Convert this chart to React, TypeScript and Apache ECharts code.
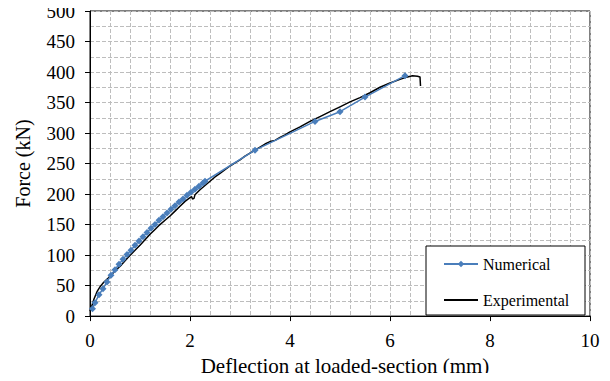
import React, { useEffect, useRef } from "react";
import * as echarts from "echarts";

// Numerical model: deflection (mm) and force (kN)
const numericalDeflection = [
  0.05, 0.1, 0.18, 0.26, 0.34, 0.42, 0.5, 0.58, 0.66, 0.74, 0.82, 0.9, 0.98,
  1.06, 1.14, 1.22, 1.3, 1.38, 1.46, 1.54, 1.62, 1.7, 1.78, 1.86, 1.94, 2.02,
  2.1, 2.18, 2.26, 2.3, 3.3, 4.5, 5.0, 5.5, 6.3,
];
const numericalForce = [
  12, 22, 35, 45, 56, 67, 76, 85, 93, 101, 108, 116, 123, 130, 137, 144, 150,
  157, 163, 169, 175, 181, 187, 192, 198, 203, 208, 213, 218, 221, 272, 319,
  335, 359, 394,
];

// Test record: deflection (mm) and force (kN)
const experimentalDeflection = [
  0, 0.03, 0.08, 0.14, 0.2, 0.26, 0.36, 0.5, 0.63, 0.76, 0.89, 1.0, 1.1, 1.2,
  1.3, 1.4, 1.5, 1.6, 1.7, 1.8, 1.9, 2.0, 2.03, 2.05, 2.08, 2.1, 2.2, 2.3, 2.4,
  2.5, 2.6, 2.7, 2.8, 2.9, 3.0, 3.1, 3.2, 3.3, 3.4, 3.5, 3.6, 3.7, 3.8, 3.9,
  4.0, 4.2, 4.4, 4.6, 4.8, 5.0, 5.2, 5.4, 5.6, 5.8, 6.0, 6.2, 6.35, 6.45, 6.55,
  6.6, 6.61,
];
const experimentalForce = [
  8, 15, 28, 40, 48, 54, 62, 74, 84, 96, 107, 116, 125, 134, 142, 150, 157,
  164, 172, 180, 188, 194, 196, 192, 193, 199, 207, 214, 221, 228, 234, 240,
  246, 251, 256, 262, 267, 272, 277, 282, 286, 288, 293, 297, 302, 310, 319,
  327, 335, 343, 351, 358, 366, 375, 382, 388, 392, 394, 393, 392, 377,
];

const xTicks = { min: 0, max: 10, interval: 2 };
const yTicks = { min: 0, max: 500, interval: 50 };

const FONT = "Liberation Serif";
const BLUE = "#4a7ebb";

const gridDash = {
  show: true,
  lineStyle: { color: "#bdbdbd", type: [4, 2] as number[], width: 1 },
};

export default function App() {
  const ref = useRef<HTMLDivElement>(null);

  useEffect(() => {
    if (!ref.current) return;
    const chart = echarts.init(ref.current, undefined, { renderer: "svg" });
    const numerical = numericalDeflection.map((x, i) => [x, numericalForce[i]]);
    const experimental = experimentalDeflection.map((x, i) => [
      x,
      experimentalForce[i],
    ]);

    chart.setOption({
      animation: false,
      backgroundColor: "#ffffff",
      textStyle: { fontFamily: FONT },
      grid: {
        left: 90,
        right: 20,
        top: 11,
        bottom: 61,
        show: true,
        borderColor: "#000",
        borderWidth: 1,
      },
      xAxis: {
        type: "value",
        ...xTicks,
        name: "Deflection at loaded-section (mm)",
        nameLocation: "middle",
        nameGap: 33,
        nameTextStyle: {
          fontFamily: FONT,
          fontSize: 21,
          color: "#000",
          padding: [0, 0, 0, 10],
        },
        axisLine: { show: true, lineStyle: { color: "#000", width: 1 } },
        axisTick: { show: true, length: 5, lineStyle: { color: "#000" } },
        axisLabel: { fontFamily: FONT, fontSize: 19, color: "#000", margin: 15 },
        splitLine: gridDash,
        minorTick: { show: false, splitNumber: 5 },
        minorSplitLine: gridDash,
      },
      yAxis: {
        type: "value",
        ...yTicks,
        name: "Force (kN)",
        nameLocation: "middle",
        nameGap: 57,
        nameTextStyle: { fontFamily: FONT, fontSize: 20, color: "#000" },
        axisLine: { show: true, lineStyle: { color: "#000", width: 1 } },
        axisTick: { show: true, length: 5, lineStyle: { color: "#000" } },
        axisLabel: { fontFamily: FONT, fontSize: 19, color: "#000", margin: 15 },
        splitLine: gridDash,
        minorTick: { show: false, splitNumber: 2 },
        minorSplitLine: gridDash,
      },
      graphic: [
        {
          type: "rect",
          z: 3,
          shape: { x: 426, y: 246, width: 159, height: 69 },
          style: { fill: "#fff", stroke: "#000", lineWidth: 1 },
        },
      ],
      legend: {
        z: 5,
        left: 426,
        top: 246,
        orient: "vertical",
        padding: [10, 10, 8, 17],
        itemWidth: 34,
        itemHeight: 8,
        itemGap: 20,
        textStyle: {
          fontFamily: FONT,
          fontSize: 16,
          lineHeight: 16,
          color: "#000",
        },
        data: [
          { name: "Numerical" },
          { name: "Experimental", itemStyle: { opacity: 0 } },
        ],
      },
      series: [
        {
          name: "Experimental",
          type: "line",
          data: experimental,
          symbol: "none",
          z: 2,
          lineStyle: { color: "#000", width: 1.5 },
          itemStyle: { color: "#000" },
        },
        {
          name: "Numerical",
          type: "line",
          data: numerical,
          symbol: "diamond",
          symbolSize: 7,
          z: 3,
          lineStyle: { color: BLUE, width: 1.5 },
          itemStyle: { color: BLUE },
        },
      ],
    });

    return () => chart.dispose();
  }, []);

  return <div ref={ref} style={{ width: 610, height: 381, margin: -8 }} />;
}
